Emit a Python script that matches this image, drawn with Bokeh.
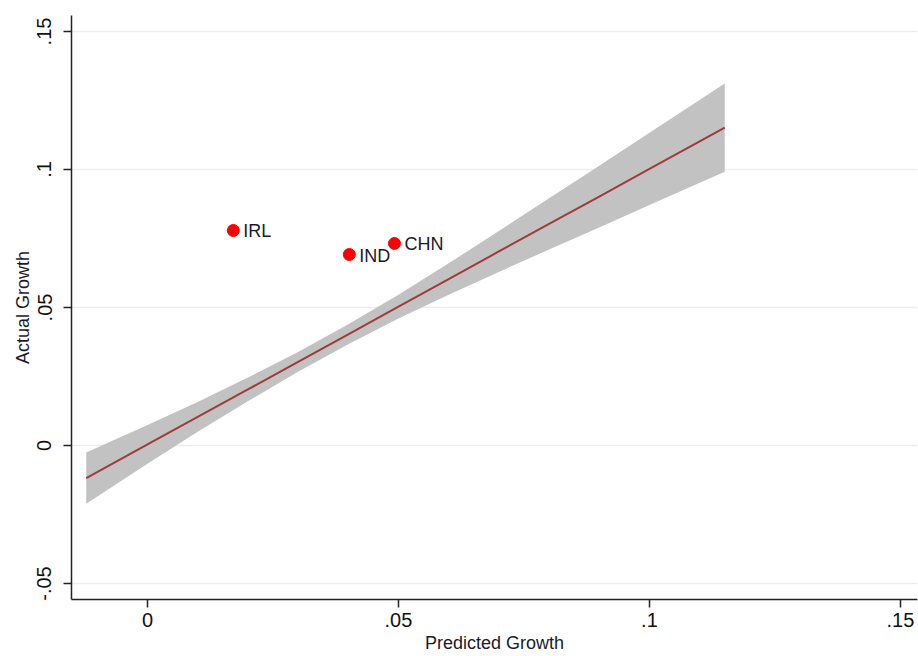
from bokeh.plotting import figure
from bokeh.models import Range1d, ColumnDataSource, FixedTicker
from bokeh.core.properties import value
from bokeh.embed import file_html
from bokeh.resources import INLINE

# Country observations
countries = ["IRL", "IND", "CHN"]
predicted = [0.0171, 0.0402, 0.0492]
actual = [0.0779, 0.0692, 0.0732]

# Linear fit with 95% confidence band
fit_x = [-0.0122, 0.0, 0.01, 0.02, 0.03, 0.04, 0.05, 0.06, 0.07, 0.08, 0.09, 0.10, 0.115]
fit_y = [-0.0118, 0.0004, 0.0104, 0.0203, 0.0303, 0.0403, 0.0503, 0.0603, 0.0703, 0.0803, 0.0902, 0.1002, 0.1152]
ci_lo = [-0.0211, -0.0066, 0.0050, 0.0160, 0.0267, 0.0367, 0.0460, 0.0546, 0.0629, 0.0710, 0.0790, 0.0871, 0.0992]
ci_hi = [-0.0025, 0.0074, 0.0158, 0.0246, 0.0339, 0.0439, 0.0546, 0.0660, 0.0777, 0.0896, 0.1014, 0.1133, 0.1312]

x_ticks = [0, 0.05, 0.1, 0.15]
x_tick_labels = ["0", ".05", ".1", ".15"]
y_ticks = [-0.05, 0, 0.05, 0.1, 0.15]
y_tick_labels = ["-.05", "0", ".05", ".1", ".15"]

FONT = "Liberation Sans"

p = figure(width=918, height=656, output_backend="svg", toolbar_location=None,
           x_range=Range1d(-0.01514, 0.1534), y_range=Range1d(-0.0558, 0.1558),
           min_border_left=71, min_border_right=1, min_border_top=15, min_border_bottom=57)
p.outline_line_color = None
p.background_fill_color = "white"
p.border_fill_color = "white"

# grid
p.xgrid.visible = False
p.ygrid.ticker = FixedTicker(ticks=y_ticks)
p.ygrid.grid_line_color = "#E6EFF1"
p.ygrid.grid_line_width = 1.5

src_band = ColumnDataSource(dict(x=fit_x, lo=ci_lo, hi=ci_hi, y=fit_y))
p.varea(x="x", y1="lo", y2="hi", source=src_band, fill_color="#C2C2C2", fill_alpha=1.0)
p.line(x="x", y="y", source=src_band, line_color="#9E3B3B", line_width=2)

src_pts = ColumnDataSource(dict(x=predicted, y=actual, name=countries))
p.scatter(x="x", y="y", source=src_pts, size=12, fill_color="#FF0000", line_color="#FF0000")
p.text(x="x", y="y", text="name", source=src_pts, x_offset=10, y_offset=1,
       text_font=value(FONT), text_font_size="18px", text_color="#1a1a2a",
       text_baseline="middle", text_align="left")

# axes
for ax in (p.xaxis[0], p.yaxis[0]):
    ax.axis_line_color = "#222222"
    ax.axis_line_width = 1.5
    ax.major_tick_line_color = "#222222"
    ax.major_tick_line_width = 1.5
    ax.major_tick_out = 8
    ax.major_tick_in = 0
    ax.minor_tick_line_color = None
    ax.major_label_text_font = FONT
    ax.major_label_text_font_size = "20px"
    ax.major_label_text_color = "#111111"
    ax.axis_label_text_font = FONT
    ax.axis_label_text_font_size = "18px"
    ax.axis_label_text_font_style = "normal"
    ax.axis_label_text_color = "#1a1a2a"

p.xaxis.ticker = FixedTicker(ticks=x_ticks)
p.xaxis.major_label_overrides = {t: l for t, l in zip(x_ticks, x_tick_labels)}
p.xaxis.axis_label = "Predicted Growth"
p.xaxis.major_label_standoff = 5
p.xaxis.axis_label_standoff = 3

p.yaxis.ticker = FixedTicker(ticks=y_ticks)
p.yaxis.major_label_overrides = {t: l for t, l in zip(y_ticks, y_tick_labels)}
p.yaxis.major_label_orientation = "vertical"
p.yaxis.axis_label = "Actual Growth"
p.yaxis.major_label_standoff = 12
p.yaxis.axis_label_standoff = 2

open("out.html", "w").write(file_html(p, INLINE))
